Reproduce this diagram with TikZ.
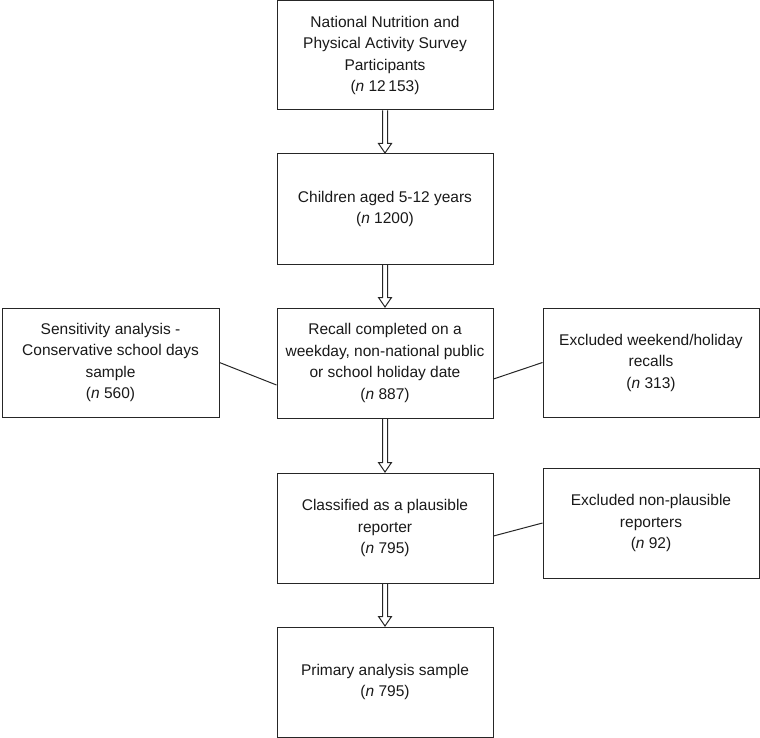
\documentclass[tikz,border=0pt]{standalone}
\usepackage{fontspec}
\setmainfont{Liberation Sans}
\usetikzlibrary{calc}
\tikzset{
  box/.style={draw=black!85, line width=1pt, rectangle, minimum width=216pt,
    minimum height=110pt, inner sep=0pt, align=center, text=black!90,
    font=\fontsize{15.5}{21.5}\selectfont},
  link/.style={draw=black!85, line width=1pt},
}
\newcommand{\dblarrow}[2]{%
  \draw[link, line join=miter]
    ($(#1.south)+(-2.5,0)$) -- ($(#2.north)+(-2.5,10)$) -- ($(#2.north)+(-6.5,10)$)
    -- ($(#2.north)+(0,0.5)$) -- ($(#2.north)+(6.5,10)$) -- ($(#2.north)+(2.5,10)$)
    -- ($(#1.south)+(2.5,0)$);}
\begin{document}
\begin{tikzpicture}[x=1pt,y=1pt]
\useasboundingbox (0,0) rectangle (760,-738);
\node[box, minimum height=109pt] (b1) at (385,-55.5) {National Nutrition and\\Physical Activity Survey\\Participants\\(\textit{n} 12\,153)};
\node[box] (b2) at (385,-209) {Children aged 5-12 years\\(\textit{n} 1200)};
\node[box] (b3) at (385,-363) {Recall completed on a\\weekday, non-national public\\or school holiday date\\(\textit{n} 887)};
\node[box, minimum width=217pt, minimum height=109pt] (l1) at (110.5,-362.5) {Sensitivity analysis -\\Conservative school days\\sample\\(\textit{n} 560)};
\node[box, minimum height=109pt] (r1) at (651,-362.5) {Excluded weekend/holiday\\recalls\\(\textit{n} 313)};
\node[box] (b4) at (385,-528) {Classified as a plausible\\reporter\\(\textit{n} 795)};
\node[box] (r2) at (651,-523) {Excluded non-plausible\\reporters\\(\textit{n} 92)};
\node[box] (b5) at (385,-682) {Primary analysis sample\\(\textit{n} 795)};
\dblarrow{b1}{b2}
\dblarrow{b2}{b3}
\dblarrow{b3}{b4}
\dblarrow{b4}{b5}
\draw[link] (l1.east) -- ($(b3.west)+(0,-22)$);
\draw[link] ($(b3.east)+(0,-16)$) -- (r1.west);
\draw[link] ($(b4.east)+(0,-8)$) -- (r2.west);
\end{tikzpicture}
\end{document}
